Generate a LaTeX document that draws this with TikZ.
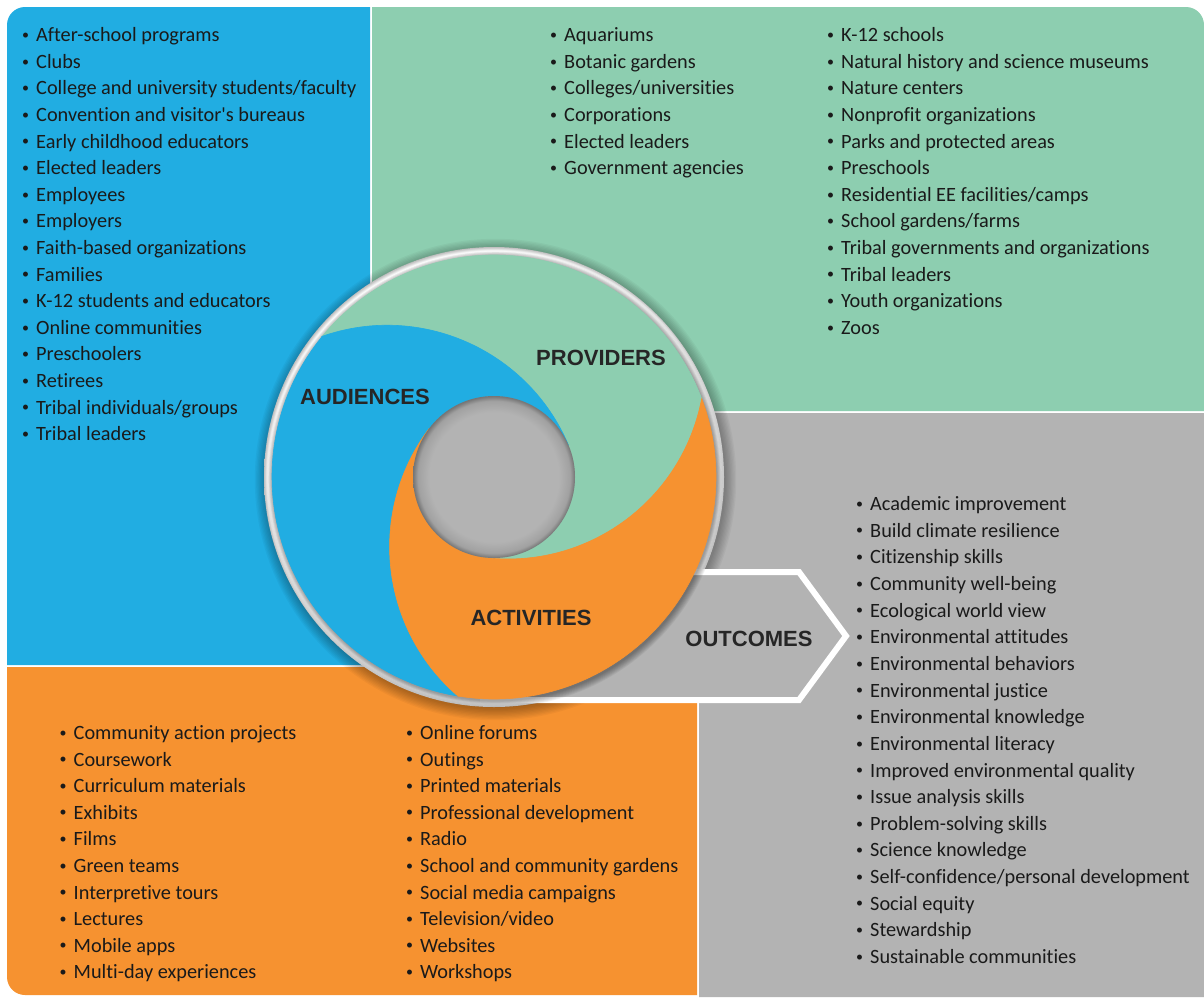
\documentclass[tikz,border=0pt]{standalone}
\usepackage{fontspec}
\setmainfont{Carlito}
\newfontfamily\listfont{Carlito}[Ligatures={NoCommon}]
\newfontfamily\labfont{Liberation Sans}
\definecolor{cblue}{RGB}{33,173,226}
\definecolor{cgreen}{RGB}{141,206,176}
\definecolor{corange}{RGB}{246,146,48}
\definecolor{cgray}{RGB}{179,179,179}
\definecolor{ctext}{RGB}{26,26,26}
\definecolor{clabel}{RGB}{38,38,38}
\pgfdeclareradialshading{ringshade}{\pgfpoint{0bp}{0bp}}{color(0bp)=(white); color(23.9bp)=(black!10); color(24.6bp)=(white); color(25bp)=(black!25); color(50bp)=(black!25)}
\pgfdeclareradialshading{hubshade}{\pgfpoint{0bp}{0bp}}{color(0bp)=(cgray); color(20bp)=(cgray); color(23.5bp)=(cgray!90!black); color(25bp)=(cgray!65!black); color(50bp)=(cgray!65!black)}
\newcommand{\bul}{\llap{\raisebox{2.3pt}{\fontsize{14}{14}\selectfont •}\hspace{7pt}}}
\begin{document}
\begin{tikzpicture}[x=1pt,y=1pt,
  item/.style={font=\listfont\fontsize{20.3}{24}\selectfont, text=ctext, inner sep=0, anchor=base west},
  lbl/.style={font=\labfont\bfseries\fontsize{22}{26}\selectfont, text=clabel, inner sep=0}]
\useasboundingbox (0,0) rectangle (1204,-997);
\fill[white] (0,0) rectangle (1204,-997);
% panels
\fill[cblue] (7,-665) -- (7,-25) arc[start angle=180,end angle=90,radius=18] -- (370,-7) -- (370,-665) -- cycle;
\fill[cgreen] (372,-7) -- (1186,-7) arc[start angle=90,end angle=0,radius=18] -- (1204,-411) -- (372,-411) -- cycle;
\fill[cgray] (372,-413) -- (1204,-413) -- (1204,-997) -- (699,-997) -- (699,-665) -- (372,-665) -- cycle;
\fill[corange] (7,-667) -- (697,-667) -- (697,-995) -- (25,-995) arc[start angle=270,end angle=180,radius=18] -- cycle;
% audiences list
\foreach \t [count=\i] in {After-school programs, Clubs, College and university students/faculty, Convention and visitor's bureaus, Early childhood educators, Elected leaders, Employees, Employers, Faith-based organizations, Families, K-12 students and educators, Online communities, Preschoolers, Retirees, Tribal individuals/groups, Tribal leaders}
  \node[item] (aud\i) at (36,{-41.7-26.6*(\i-1)}) {\bul\t};
% providers lists
\foreach \t [count=\i] in {Aquariums, Botanic gardens, Colleges/universities, Corporations, Elected leaders, Government agencies}
  \node[item] (prova\i) at (564,{-41.7-26.6*(\i-1)}) {\bul\t};
\foreach \t [count=\i] in {K-12 schools, Natural history and science museums, Nature centers, Nonprofit organizations, Parks and protected areas, Preschools, Residential EE facilities/camps, School gardens/farms, Tribal governments and organizations, Tribal leaders, Youth organizations, Zoos}
  \node[item] (provb\i) at (841,{-41.7-26.6*(\i-1)}) {\bul\t};
% activities lists
\foreach \t [count=\i] in {Community action projects, Coursework, Curriculum materials, Exhibits, Films, Green teams, Interpretive tours, Lectures, Mobile apps, Multi-day experiences}
  \node[item] (acta\i) at (73.5,{-739.4-26.6*(\i-1)}) {\bul\t};
\foreach \t [count=\i] in {Online forums, Outings, Printed materials, Professional development, Radio, School and community gardens, Social media campaigns, Television/video, Websites, Workshops}
  \node[item] (actb\i) at (420,{-739.4-26.6*(\i-1)}) {\bul\t};
% outcomes list
\foreach \t [count=\i] in {Academic improvement, Build climate resilience, Citizenship skills, Community well-being, Ecological world view, Environmental attitudes, Environmental behaviors, Environmental justice, Environmental knowledge, Environmental literacy, Improved environmental quality, Issue analysis skills, Problem-solving skills, Science knowledge, Self-confidence/personal development, Social equity, Stewardship, Sustainable communities}
  \node[item] (out\i) at (870,{-510.5-26.65*(\i-1)}) {\bul\t};
% circle
\begin{scope}[shift={(494,-477)}]
  \foreach \k in {1,...,9} \fill[black,opacity=0.035] (1.5,-2.5) circle[radius=229+\k*1.3];
  \shade[shading=ringshade] (0,0) circle[radius=230];
\end{scope}
% outcomes arrow (over the ring, under the disc)
\filldraw[fill=cgray, draw=white, line width=6, line join=miter] (480,-572) -- (799,-572) -- (846,-636) -- (799,-700) -- (480,-700);
\begin{scope}[shift={(494,-477)}]
  \foreach \k in {1,...,8} \fill[black,opacity=0.05] (1.5,-2.5) circle[radius=221+\k*0.9];
  \foreach \r/\c in {0/cgreen,120/cblue,240/corange}
    \filldraw[fill=\c, draw=\c, line width=0.6, rotate=\r] (20.7:222) arc[start angle=20.7,end angle=140.7,radius=222] arc[start angle=109.3,end angle=23,radius=197] arc[start angle=23,end angle=-97,radius=81] arc[start angle=-97,end angle=-10.7,radius=197] -- cycle;
  \shade[shading=hubshade] (0,0) circle[radius=81];
\end{scope}
% labels
\node[lbl] (provl) at (601,-357.5) {PROVIDERS};
\node[lbl] (audl) at (365,-397) {AUDIENCES};
\node[lbl] (actl) at (531,-618) {ACTIVITIES};
\node[lbl] (outl) at (749,-638.5) {OUTCOMES};
\end{tikzpicture}
\end{document}
